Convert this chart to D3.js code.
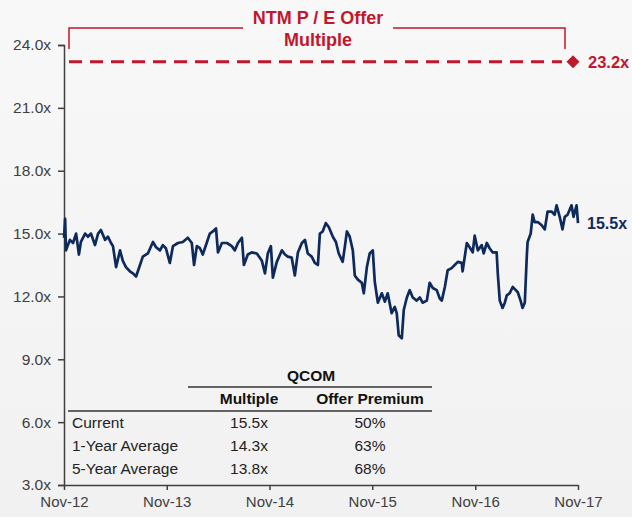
<!DOCTYPE html>
<html>
<head>
<meta charset="utf-8">
<script src="https://cdn.jsdelivr.net/npm/d3@7"></script>
<style>
  body { margin: 0; background: #fff; }
  svg { display: block; font-family: Arial, "Liberation Sans", sans-serif; }
</style>
</head>
<body>
<div id="chart"></div>
<script>
//NTM P/E series (date, multiple)
var dates = [
  "2012-11-01","2012-11-05","2012-11-08","2012-11-22","2012-12-03","2012-12-14","2012-12-24","2012-12-31",
  "2013-01-15","2013-01-25","2013-02-05","2013-02-19","2013-03-02","2013-03-12","2013-03-27","2013-04-06",
  "2013-04-17","2013-04-24","2013-05-05","2013-05-19","2013-05-29","2013-06-09","2013-06-23","2013-07-04",
  "2013-07-15","2013-07-29","2013-08-08","2013-08-26","2013-09-13","2013-09-24","2013-10-08","2013-10-18",
  "2013-10-29","2013-11-12","2013-11-23","2013-12-11","2013-12-28","2014-01-15","2014-01-29","2014-02-06",
  "2014-02-16","2014-02-27","2014-03-09","2014-03-24","2014-04-03","2014-04-14","2014-04-25","2014-05-02",
  "2014-05-16","2014-06-03","2014-06-20","2014-07-01","2014-07-12","2014-07-26","2014-08-02","2014-08-16",
  "2014-08-30","2014-09-17","2014-10-05","2014-10-16","2014-10-26","2014-11-06","2014-11-13","2014-11-27",
  "2014-12-15","2014-12-26","2015-01-05","2015-01-19","2015-01-30","2015-02-10","2015-02-24","2015-03-07",
  "2015-03-17","2015-03-31","2015-04-11","2015-04-22","2015-04-29","2015-05-09","2015-05-20","2015-05-31",
  "2015-06-14","2015-06-25","2015-07-05","2015-07-19","2015-07-27","2015-08-03","2015-08-13","2015-08-24",
  "2015-08-31","2015-09-11","2015-09-25","2015-10-02","2015-10-13","2015-10-23","2015-11-03","2015-11-10",
  "2015-11-21","2015-12-05","2015-12-16","2015-12-26","2016-01-09","2016-01-20","2016-01-27","2016-02-03",
  "2016-02-14","2016-02-21","2016-03-03","2016-03-13","2016-03-24","2016-04-07","2016-04-18","2016-04-28",
  "2016-05-13","2016-05-23","2016-06-03","2016-06-17","2016-06-28","2016-07-05","2016-07-16","2016-07-26",
  "2016-08-09","2016-08-20","2016-08-31","2016-09-14","2016-09-17","2016-10-02","2016-10-12","2016-10-23",
  "2016-10-30","2016-11-10","2016-11-24","2016-12-01","2016-12-12","2016-12-22","2017-01-02","2017-01-16",
  "2017-01-20","2017-01-27","2017-02-06","2017-02-14","2017-02-21","2017-03-03","2017-03-14","2017-03-25",
  "2017-04-01","2017-04-11","2017-04-18","2017-04-26","2017-05-03","2017-05-06","2017-05-17","2017-05-24",
  "2017-05-31","2017-06-11","2017-06-25","2017-07-06","2017-07-16","2017-07-30","2017-08-10","2017-08-17",
  "2017-08-28","2017-09-07","2017-09-15","2017-09-25","2017-10-09","2017-10-16","2017-10-27","2017-11-01"
];
var multiples = [
  14.8,15.7,14.2,14.7,14.55,15.0,14.0,14.6,
  15.0,14.85,15.0,14.45,15.0,15.17,14.7,14.85,
  14.55,14.4,13.4,14.2,13.7,13.4,13.2,13.1,
  12.95,13.5,13.9,14.05,14.6,14.35,14.2,14.45,
  14.3,13.6,14.4,14.55,14.6,14.8,14.55,13.5,
  14.4,14.3,14.0,14.6,15.0,15.1,15.25,14.1,
  14.55,14.55,14.4,14.2,14.55,14.8,13.5,14.0,
  14.1,14.05,13.7,13.1,14.05,14.4,12.9,13.65,
  14.2,14.0,13.9,13.85,13.0,14.1,14.55,14.7,
  14.05,13.9,13.6,13.5,15.0,15.1,15.5,15.3,
  14.85,14.6,14.05,13.65,14.4,15.1,14.85,14.2,
  13.0,12.8,12.65,12.15,13.4,14.05,14.2,12.7,
  11.7,12.15,11.75,12.15,11.2,11.5,11.2,10.15,
  10.0,11.35,11.95,12.3,11.95,11.8,11.95,11.7,
  11.8,12.65,12.4,12.3,11.9,11.8,12.45,13.25,
  13.35,13.5,13.65,13.6,13.2,14.55,14.35,14.1,
  14.9,14.2,14.45,14.05,14.55,14.3,14.1,14.1,
  13.1,11.8,11.45,11.7,12.05,12.15,12.45,12.3,
  12.2,11.8,11.45,11.7,13.9,14.6,15.0,15.9,
  15.55,15.55,15.4,15.2,16.05,16.05,15.9,16.35,
  15.8,15.2,15.8,15.9,16.35,15.8,16.35,15.5
];

var offerMultiple = 23.2;
var currentMultiple = 15.5;

//axis ticks
var yTicks = [3, 6, 9, 12, 15, 18, 21, 24];
var xTickDates = ["2012-11-01","2013-11-01","2014-11-01","2015-11-01","2016-11-01","2017-11-01"];
var xTickLabels = ["Nov-12","Nov-13","Nov-14","Nov-15","Nov-16","Nov-17"];

//summary table
var tableTitle = "QCOM";
var tableColumns = ["Multiple", "Offer Premium"];
var tableRows = ["Current", "1-Year Average", "5-Year Average"];
var tableMultiples = ["15.5x", "14.3x", "13.8x"];
var tablePremiums = ["50%", "63%", "68%"];

var W = 632, H = 517;
var red = "#c1172c", navy = "#0e2a5c", grey = "#404040";

var parse = d3.timeParse("%Y-%m-%d");
var series = dates.map(function(d, i){ return {date: parse(d), value: multiples[i]}; });

var svg = d3.select("#chart").append("svg")
    .attr("width", W).attr("height", H);

//light grey backdrop
var grad = svg.append("defs").append("linearGradient")
    .attr("id", "bg").attr("x1", 0).attr("y1", 0).attr("x2", 0).attr("y2", 1);
grad.append("stop").attr("offset", "0%").attr("stop-color", "#f8f8f8");
grad.append("stop").attr("offset", "100%").attr("stop-color", "#f1f1f1");
svg.append("rect").attr("width", W).attr("height", H).attr("fill", "url(#bg)");

//scales
var x = d3.scaleTime()
    .domain([parse(xTickDates[0]), parse(xTickDates[xTickDates.length - 1])])
    .range([64, 578]);
var y = d3.scaleLinear().domain([3, 24]).range([485, 45]);

//y axis
var yAxis = svg.append("g")
    .attr("transform", "translate(64,0)")
    .call(d3.axisLeft(y).tickValues(yTicks).tickSize(6).tickPadding(7)
        .tickFormat(function(d){ return d3.format(".1f")(d) + "x"; }));
yAxis.select(".domain").attr("stroke", grey).attr("stroke-width", 1.5);
yAxis.selectAll(".tick line").attr("stroke", grey).attr("stroke-width", 1.5);
yAxis.selectAll(".tick text").attr("fill", grey).style("font-size", "15.5px");

//x axis
var xAxis = svg.append("g")
    .attr("transform", "translate(0,485)")
    .call(d3.axisBottom(x).tickValues(xTickDates.map(parse)).tickSize(5).tickSizeOuter(0).tickPadding(6)
        .tickFormat(function(d, i){ return xTickLabels[i]; }));
xAxis.select(".domain").attr("stroke", grey).attr("stroke-width", 1.5);
xAxis.selectAll(".tick line").attr("stroke", grey).attr("stroke-width", 1.5);
xAxis.selectAll(".tick text").attr("fill", grey).style("font-size", "15px");

//P/E line
var line = d3.line()
    .x(function(d){ return x(d.date); })
    .y(function(d){ return y(d.value); });

svg.append("path")
    .datum(series)
    .attr("d", line)
    .attr("fill", "none")
    .attr("stroke", navy)
    .attr("stroke-width", 2.7)
    .attr("stroke-linejoin", "round");

var last = series[series.length - 1];
svg.append("text")
    .attr("x", x(last.date) + 9)
    .attr("y", y(currentMultiple))
    .attr("dy", "0.35em")
    .attr("fill", navy)
    .style("font-size", "16px").style("font-weight", "bold")
    .text(d3.format(".1f")(currentMultiple) + "x");

//offer multiple dashed line
var offerY = y(offerMultiple);
svg.append("line")
    .attr("x1", 69).attr("x2", 562)
    .attr("y1", offerY).attr("y2", offerY)
    .attr("stroke", red).attr("stroke-width", 3)
    .attr("stroke-dasharray", "13,8");

svg.append("path")
    .attr("d", d3.symbol().type(d3.symbolSquare).size(85))
    .attr("transform", "translate(573," + offerY + ") rotate(45)")
    .attr("fill", red);

svg.append("text")
    .attr("x", 588).attr("y", offerY).attr("dy", "0.35em")
    .attr("fill", red)
    .style("font-size", "16.5px").style("font-weight", "bold")
    .text(d3.format(".1f")(offerMultiple) + "x");

//bracket with title
var bx0 = 69, bx1 = 565, bTop = 28, bBot = 49;
svg.append("path")
    .attr("d", "M" + bx0 + "," + bBot + "V" + bTop + "H243")
    .attr("fill", "none").attr("stroke", red).attr("stroke-width", 1.5);
svg.append("path")
    .attr("d", "M393," + bTop + "H" + bx1 + "V" + bBot)
    .attr("fill", "none").attr("stroke", red).attr("stroke-width", 1.5);

svg.append("text")
    .attr("x", 318).attr("y", 24)
    .attr("text-anchor", "middle").attr("fill", red)
    .style("font-size", "18px").style("font-weight", "bold")
    .text("NTM P / E Offer");
svg.append("text")
    .attr("x", 318).attr("y", 46)
    .attr("text-anchor", "middle").attr("fill", red)
    .style("font-size", "18px").style("font-weight", "bold")
    .text("Multiple");

//summary table
var table = svg.append("g");
var colX = [249, 370];

table.append("text")
    .attr("x", 311).attr("y", 381)
    .attr("text-anchor", "middle").attr("fill", "#111")
    .style("font-size", "15.5px").style("font-weight", "bold")
    .text(tableTitle);
table.append("line")
    .attr("x1", 188).attr("x2", 432).attr("y1", 387).attr("y2", 387)
    .attr("stroke", "#333").attr("stroke-width", 1.5);

table.selectAll(".colhead")
    .data(tableColumns)
    .enter().append("text")
    .attr("x", function(d, i){ return colX[i]; })
    .attr("y", 404)
    .attr("text-anchor", "middle").attr("fill", "#111")
    .style("font-size", "15.5px").style("font-weight", "bold")
    .text(function(d){ return d; });

table.append("line")
    .attr("x1", 68).attr("x2", 432).attr("y1", 411).attr("y2", 411)
    .attr("stroke", "#333").attr("stroke-width", 1.5);

var rowY = d3.scalePoint().domain(tableRows).range([428, 474]);

tableRows.forEach(function(r, i){
    table.append("text")
        .attr("x", 72).attr("y", rowY(r))
        .attr("fill", "#222").style("font-size", "15.5px")
        .text(r);
    table.append("text")
        .attr("x", colX[0]).attr("y", rowY(r))
        .attr("text-anchor", "middle")
        .attr("fill", "#222").style("font-size", "15.5px")
        .text(tableMultiples[i]);
    table.append("text")
        .attr("x", colX[1]).attr("y", rowY(r))
        .attr("text-anchor", "middle")
        .attr("fill", "#222").style("font-size", "15.5px")
        .text(tablePremiums[i]);
});
</script>
</body>
</html>
